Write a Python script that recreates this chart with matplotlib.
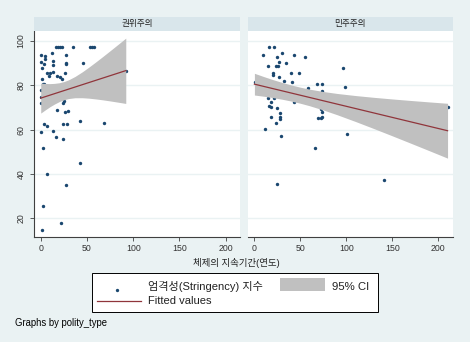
import matplotlib
matplotlib.use("Agg")
from matplotlib import pyplot as plt
from matplotlib.lines import Line2D
from matplotlib.patches import Rectangle

plt.rcParams['font.family'] = ['Liberation Sans', 'Noto Sans CJK KR', 'DejaVu Sans']

# 권위주의 (authoritarian): regime duration (years) vs stringency index
auth_x = [17, 19, 21, 23, 35, 53, 55, 58, 0, 4.7, 4.7, 11.9, 27,
          0, 13, 13, 27, 27, 46, 1, 3.6, 7.2, 10, 13.7, 8.6, 18, 21,
          22.7, 26.7, 1.1, 2.2, 4, 0, 0, 0, 24.5, 25.6, 18, 26.7, 29,
          4, 6.5, 23.8, 28, 42.5, 68.5, 0, 13.7, 16.6, 23.8, 2.2, 42.5,
          7.2, 27, 2.2, 21.6, 1.8, 92]
auth_y = [97.3, 97.3, 97.3, 97.3, 97.3, 97.3, 97.3, 97.3, 93.7, 93, 92, 94.4, 93.7,
          90.7, 91, 89.2, 90.2, 89.5, 90, 87.7, 89.6, 85.7, 85.7, 86, 84.2, 84.2, 83.9,
          82.7, 85.4, 82.7, 80.6, 80.6, 77.9, 74.9, 71.9, 72.2, 72.9, 68.9, 67.8, 68.6,
          62.6, 61.7, 62.4, 62.4, 63.9, 62.9, 59.1, 59.5, 56.5, 55.9, 51.6, 45.1,
          40, 34.9, 25.7, 18, 14.7, 86.6]

# fitted line and 95% CI
auth_fit_x = [0, 92]
auth_fit_y = [74.2, 86.6]
auth_ci_x = [0, 5, 10, 15, 20, 25, 30, 37, 45, 52, 60, 67, 75, 83, 92]
auth_ci_hi = [80.95, 80.81, 80.74, 80.86, 81.13, 81.65, 82.44, 83.95, 86.08,
              88.16, 90.67, 92.93, 95.56, 98.23, 101.26]
auth_ci_lo = [67.45, 68.93, 70.34, 71.56, 72.63, 73.45, 74.0, 74.37, 74.38,
              74.18, 73.81, 73.43, 72.94, 72.41, 71.8]

# 민주주의 (democracy)
demo_x = [16.4, 21.2, 9.1, 30.3, 43, 55.5, 24.8, 26.3, 34, 14.6, 23, 25.5,
          20, 20, 39.4, 48.5, 26.3, 32, 41.2, 0.7, 68.2, 73, 58.4, 73, 14.6,
          18.2, 21, 42.7, 16.4, 17.5, 24.8, 73.7, 27.4, 27.4, 27.4, 17.5, 69.3,
          72, 74, 24, 11.7, 29.2, 65.7, 96.7, 98.5, 101, 211, 24.8, 141, 72]
demo_y = [97.3, 97.3, 93.7, 94.4, 93.7, 92.6, 92.6, 90.7, 89.9, 88.9, 88.9, 88.9,
          85.4, 84.7, 85.4, 85.4, 83.9, 82, 81.4, 81.4, 80.5, 80.5, 78.6, 77.6, 74.1,
          72.6, 74.1, 72.3, 70.7, 70.1, 69.9, 67.8, 67.4, 65.6, 64.8, 65.6, 65.1,
          65.1, 65.6, 62.9, 60.2, 57.3, 51.6, 88, 79.4, 58, 70.1, 35.3, 37.1, 69.3]

demo_fit_x = [0, 210]
demo_fit_y = [80.5, 59.5]
demo_ci_x = [0, 10, 20, 30, 40, 50, 60, 75, 90, 110, 130, 150, 170, 190, 210]
demo_ci_hi = [85.4, 83.94, 82.56, 81.29, 80.13, 79.12, 78.24, 77.17, 76.3,
              75.36, 74.55, 73.82, 73.14, 72.49, 71.87]
demo_ci_lo = [75.6, 75.06, 74.44, 73.71, 72.87, 71.88, 70.76, 68.83, 66.7,
              63.64, 60.45, 57.18, 53.86, 50.51, 47.13]

panel_titles = ['권위주의', '민주주의']
x_ticks = [0, 50, 100, 150, 200]
y_ticks = [20, 40, 60, 80, 100]

bg = '#EAF2F3'
strip = '#D9E6EB'
navy = '#1A476F'
maroon = '#90353B'
ci_gray = '#C0C0C0'
axis_col = '#404040'

W, H = 470, 342


def fx(px):
    return px / W


def fy(py):
    return 1 - py / H


fig = plt.figure(figsize=(4.7, 3.42), dpi=100, facecolor=bg)

panels = [
    (34, 240, auth_x, auth_y, auth_fit_x, auth_fit_y, auth_ci_x, auth_ci_lo, auth_ci_hi),
    (247.7, 452.7, demo_x, demo_y, demo_fit_x, demo_fit_y, demo_ci_x, demo_ci_lo, demo_ci_hi),
]
top, bottom, strip_top = 30.5, 237.3, 16.7

for i, (x0, x1, xs, ys, fit_x, fit_y, ci_x, ci_lo, ci_hi) in enumerate(panels):
    ax = fig.add_axes([fx(x0), fy(bottom), (x1 - x0) / W, (bottom - top) / H])
    ax.set_facecolor('white')
    ax.scatter(xs, ys, s=6, color=navy, marker='o', lw=0, zorder=2)
    # CI band is drawn over the points, as in the original
    ax.fill_between(ci_x, ci_lo, ci_hi, color=ci_gray, lw=0, zorder=3)
    ax.plot(fit_x, fit_y, color=maroon, lw=0.9, zorder=4)
    ax.set_xlim(-7.3, 215.6)
    ax.set_ylim(11.43, 104.7)
    ax.set_xticks(x_ticks)
    ax.set_yticks(y_ticks)
    for yv in y_ticks:
        ax.axhline(yv, color=bg, lw=1, zorder=1)
    for sp in ['top', 'right']:
        ax.spines[sp].set_visible(False)
    ax.spines['bottom'].set_color(axis_col)
    ax.spines['bottom'].set_linewidth(0.8)
    ax.tick_params(axis='x', labelsize=6.3, length=3, width=0.6, color=axis_col,
                   labelcolor='#333333', pad=2)
    if i == 0:
        ax.spines['left'].set_color(axis_col)
        ax.spines['left'].set_linewidth(0.8)
        ax.tick_params(axis='y', labelsize=6.3, length=3, width=0.6, color=axis_col,
                       labelcolor='#333333', pad=3)
        for lab in ax.get_yticklabels():
            lab.set_rotation(90)
            lab.set_va('center')
    else:
        ax.spines['left'].set_visible(False)
        ax.tick_params(axis='y', left=False, labelleft=False)

    # panel header strip
    sx = fig.add_axes([fx(x0), fy(top), (x1 - x0) / W, (top - strip_top) / H])
    sx.set_facecolor(strip)
    sx.set_xticks([])
    sx.set_yticks([])
    for sp in sx.spines.values():
        sp.set_visible(False)
    sx.text(0.5, 0.5, panel_titles[i], ha='center', va='center', fontsize=6.2,
            color='#222222', transform=sx.transAxes)

fig.text(fx(236), fy(263), '체제의 지속기간(연도)', ha='center', va='center',
         fontsize=6.8, color='#222222')
fig.text(fx(15), fy(323.3), 'Graphs by polity_type', ha='left', va='center',
         fontsize=6.85, color='black')

# legend, laid out like the Stata key
fig.add_artist(Rectangle((fx(92.3), fy(312.3)), (377.7 - 92.3) / W, (312.3 - 272.7) / H,
                         transform=fig.transFigure, facecolor='white',
                         edgecolor='black', lw=0.7))
fig.add_artist(Line2D([fx(117)], [fy(290)], ls='none', marker='o', ms=2.4,
                      mew=0, color=navy, transform=fig.transFigure))
fig.add_artist(Line2D([fx(97), fx(141)], [fy(300.7), fy(300.7)], color=maroon,
                      lw=0.9, transform=fig.transFigure))
fig.add_artist(Rectangle((fx(280), fy(291)), 45 / W, 13 / H, transform=fig.transFigure,
                         facecolor=ci_gray, edgecolor='none'))
fig.text(fx(148), fy(286.5), '엄격성(Stringency) 지수', ha='left', va='center',
         fontsize=8, color='#222222')
fig.text(fx(148), fy(301.5), 'Fitted values', ha='left', va='center',
         fontsize=8, color='#222222')
fig.text(fx(332), fy(286.5), '95% CI', ha='left', va='center',
         fontsize=8.2, color='#222222')

fig.savefig('out.png', dpi=100, facecolor=bg)
